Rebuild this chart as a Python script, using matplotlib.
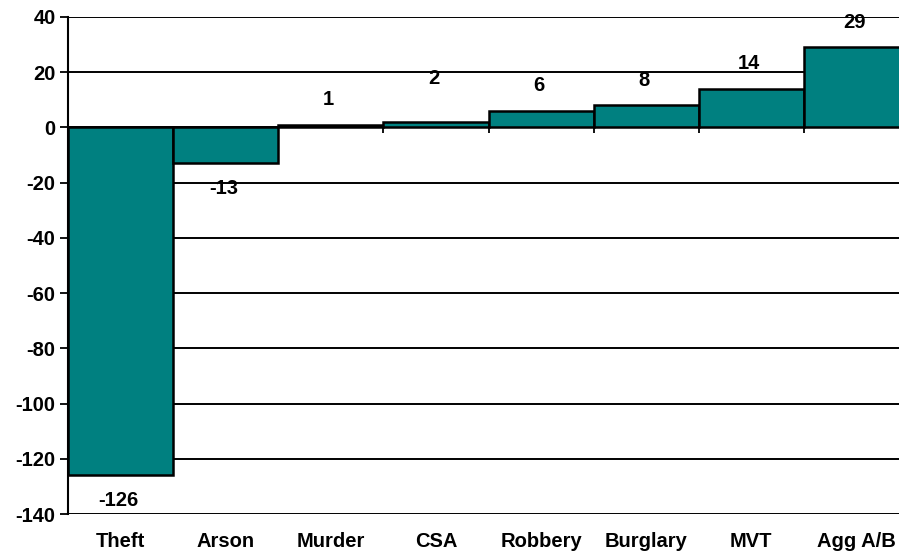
import numpy as np
import matplotlib.pyplot as plt

# -----------------------------
# Data
# -----------------------------
categories = ["Theft", "Arson", "Murder", "CSA", "Robbery", "Burglary", "MVT", "Agg A/B"]
values = [-126, -13, 1, 2, 6, 8, 14, 29]
y_ticks = [40, 20, 0, -20, -40, -60, -80, -100, -120, -140]

plt.rcParams["font.family"] = ["Liberation Sans", "DejaVu Sans"]
plt.rcParams["font.weight"] = "bold"
FS = 14.5

fig = plt.figure(figsize=(8.99, 5.56), dpi=100)
W, H = 899, 556
ax = fig.add_axes([68 / W, (556 - 514) / H, (909 - 68) / W, (514 - 17) / H])

x = np.arange(len(categories))

# gridlines
for yv in y_ticks:
    ax.axhline(yv, color="black", lw=1.4, zorder=1)

# boundary ticks at the zero line
bounds = x[:-1] + 0.5
ax.vlines(bounds, 0, -1.9, color="black", lw=1.3, zorder=1)

ax.bar(x, values, width=1.0, color="#008080", edgecolor="black",
       linewidth=1.8, zorder=2)

# value labels (CSA label sits higher in the original)
extra = {"CSA": 18}
for i, (cat, v) in enumerate(zip(categories, values)):
    off = 25 + extra.get(cat, 0)
    ax.annotate(f"{v}", (i, v), xytext=(-2, off if v >= 0 else -off),
                textcoords="offset pixels", ha="center", va="center",
                fontsize=FS, fontweight="bold", color="black")

ax.set_xlim(-0.5, len(categories) - 0.5)
ax.set_ylim(-140, 40)
ax.set_yticks(y_ticks)
ax.set_yticklabels([str(t) for t in y_ticks], fontsize=FS, fontweight="bold")
ax.set_xticks(x)
ax.set_xticklabels(categories, fontsize=FS, fontweight="bold")
ax.tick_params(axis="x", length=0, pad=13)
ax.tick_params(axis="y", length=6, width=1.3, pad=3)

for s in ["top", "right", "bottom"]:
    ax.spines[s].set_visible(False)
ax.spines["left"].set_linewidth(1.5)

fig.savefig("out.png", dpi=100)
